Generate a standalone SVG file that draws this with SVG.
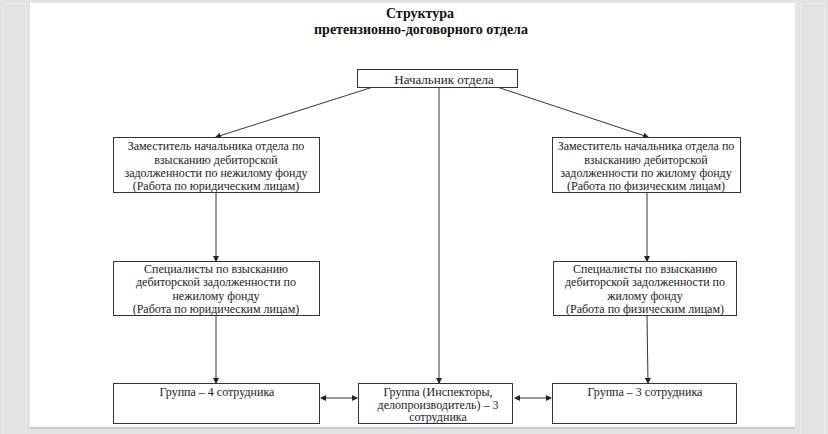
<svg xmlns="http://www.w3.org/2000/svg" width="828" height="434" viewBox="0 0 828 434">
<style>
.box{fill:#fff;stroke:#333;stroke-width:1}
.t{font-family:"Liberation Serif","Times New Roman",serif;font-size:12px;fill:#222;text-anchor:middle}
.title{font-family:"Liberation Serif","Times New Roman",serif;font-size:14px;font-weight:bold;fill:#111;text-anchor:middle}
.c{stroke:#333;stroke-width:1;fill:none}
</style>
<defs>
<marker id="ah" markerWidth="6" markerHeight="6" refX="5" refY="3" orient="auto" markerUnits="userSpaceOnUse">
<path d="M0,0 L6,3 L0,6 z" fill="#222"/>
</marker>
<marker id="as" markerWidth="6" markerHeight="6" refX="1" refY="3" orient="auto" markerUnits="userSpaceOnUse">
<path d="M6,0 L0,3 L6,6 z" fill="#222"/>
</marker>
</defs>
<rect x="0" y="0" width="828" height="434" fill="#e3e3e3"/>
<rect x="3.5" y="3.5" width="821" height="440" fill="none" stroke="#ececec"/>
<rect x="25.5" y="3.5" width="775" height="440" fill="none" stroke="#ececec"/>
<rect x="30" y="3" width="765" height="424" fill="#fff"/>
<line x1="30" y1="428" x2="795" y2="428" stroke="#c8c8c8" stroke-width="2"/>
<g id="title">
<text class="title" x="420" y="18">Структура</text>
<text class="title" x="421" y="34">претензионно-договорного отдела</text>
</g>
<g id="connectors">
<line class="c" x1="373" y1="87" x2="216" y2="137" marker-end="url(#ah)"/>
<line class="c" x1="497" y1="87" x2="648" y2="137" marker-end="url(#ah)"/>
<line class="c" x1="439" y1="87" x2="439" y2="383" marker-end="url(#ah)"/>
<line class="c" x1="216" y1="192" x2="216" y2="261" marker-end="url(#ah)"/>
<line class="c" x1="647" y1="192" x2="647" y2="261" marker-end="url(#ah)"/>
<line class="c" x1="216" y1="315" x2="216" y2="383" marker-end="url(#ah)"/>
<line class="c" x1="647" y1="315" x2="648" y2="383" marker-end="url(#ah)"/>
<line class="c" x1="321" y1="398" x2="357" y2="398" marker-start="url(#as)" marker-end="url(#ah)"/>
<line class="c" x1="515" y1="398" x2="551" y2="398" marker-start="url(#as)" marker-end="url(#ah)"/>
</g>
<g id="head">
<rect class="box" x="357.5" y="69.5" width="160" height="18"/>
<text class="t" x="444" y="83.5" style="font-size:13px">Начальник отдела</text>
</g>
<g id="dep-left">
<rect class="box" x="113.5" y="137.5" width="206" height="55"/>
<text class="t" x="216" y="150">Заместитель начальника отдела по</text>
<text class="t" x="216" y="163.5">взысканию дебиторской</text>
<text class="t" x="216" y="177">задолженности по нежилому фонду</text>
<text class="t" x="216" y="190">(Работа по юридическим лицам)</text>
</g>
<g id="dep-right">
<rect class="box" x="552.5" y="137.5" width="188" height="55"/>
<text class="t" x="646" y="150">Заместитель начальника отдела по</text>
<text class="t" x="646" y="163.5">взысканию дебиторской</text>
<text class="t" x="646" y="177">задолженности по жилому фонду</text>
<text class="t" x="646" y="190">(Работа по физическим лицам)</text>
</g>
<g id="spec-left">
<rect class="box" x="113.5" y="261.5" width="206" height="54"/>
<text class="t" x="216" y="272.5">Специалисты по взысканию</text>
<text class="t" x="216" y="286">дебиторской задолженности по</text>
<text class="t" x="216" y="299.5">нежилому фонду</text>
<text class="t" x="216" y="313">(Работа по юридическим лицам)</text>
</g>
<g id="spec-right">
<rect class="box" x="553.5" y="261.5" width="183" height="54"/>
<text class="t" x="645" y="272.5">Специалисты по взысканию</text>
<text class="t" x="645" y="286">дебиторской задолженности по</text>
<text class="t" x="645" y="299.5">жилому фонду</text>
<text class="t" x="645" y="313">(Работа по физическим лицам)</text>
</g>
<g id="group-left">
<rect class="box" x="113.5" y="383.5" width="206" height="40"/>
<text class="t" x="217" y="396">Группа – 4 сотрудника</text>
</g>
<g id="group-middle">
<rect class="box" x="358.5" y="383.5" width="154" height="40"/>
<text class="t" x="438" y="396">Группа (Инспекторы,</text>
<text class="t" x="438" y="408.5">делопроизводитель) – 3</text>
<text class="t" x="438" y="421">сотрудника</text>
</g>
<g id="group-right">
<rect class="box" x="552.5" y="383.5" width="184" height="40"/>
<text class="t" x="645" y="396">Группа – 3 сотрудника</text>
</g>
</svg>
